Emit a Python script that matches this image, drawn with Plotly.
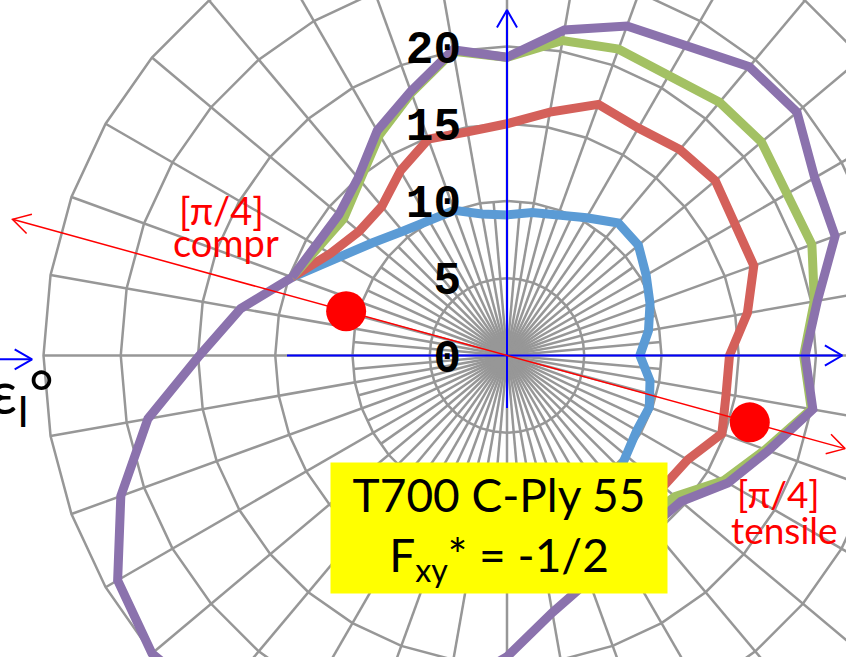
import numpy as np
import plotly.graph_objects as go

# ---------------------------------------------------------------------------
# Failure envelopes (radar layout): angle in degrees, counter-clockwise from
# the +x axis, walked clockwise starting from the common point at 160 deg.
# ---------------------------------------------------------------------------
theta_deg = [160 - 10 * i for i in range(36)]  # 160, 150, ..., -190

blue = [14.8, 12.7, 11.35, 10.5, 10.1, 10.0, 9.3, 9.1, 9.4, 9.75, 10.3, 11.2,
        11.1, 10.4, 9.85, 9.3, 8.6, 9.4, 9.8, 9.7, 10.0, 10.8, 11.5] + [None] * 13
red = [14.8, 13.2, 12.5, 12.6, 13.8, 14.9, 14.7, 15.0, 16.0, 17.3, 17.0, 17.4,
       17.6, 17.0, 17.0, 15.8, 14.4, 14.4, 14.8, 13.5, 13.2, 13.0, 13.0] + [None] * 13
green = [14.8, 14.0, 13.8, 14.8, 16.5, 18.1, 20.0, 19.3, 20.7, 21.1, 20.9, 21.4,
         21.5, 20.9, 21.0, 20.2, 19.2, 20.0, 17.8, 16.2, 14.2, 13.8, 14.0] + [None] * 13
purple = [14.8, 14.3, 14.2, 15.0, 16.8, 18.2, 20.1, 19.3, 21.4, 22.7, 23.2, 24.4,
          24.5, 23.0, 22.6, 20.4, 19.3, 20.1, 18.0, 16.5, 14.7, 14.5, 15.0, 15.5,
          16.9, 19.5, 22.0, 25.0, 27.5, 29.5, 30.0, 29.1, 26.6, 23.6, 19.9, 17.5]

series_names = ["blue", "red", "green", "purple"]
series_colors = ["#5B9BD5", "#D4605A", "#A3C163", "#8B72AD"]

# radial grid / labels
radial_ticks = [0, 5, 10, 15, 20]
ring_radii = [5, 10, 15, 20, 25, 30]
spoke_angles = list(range(0, 360, 10))
fine_spoke_angles = list(range(5, 360, 10))
r_outer = 30
r_fine = 10

# [pi/4] loading direction and the two marked strengths on it
principal_angle = -15.4
dot_theta = [180 + principal_angle, principal_angle]
dot_r = [10.8, 16.3]

# view window (data units)
X_RANGE = [-32.816, 21.942]
Y_RANGE = [-19.515, 23.010]
W, H = 846, 657


def to_xy(rs, ths):
    xs, ys = [], []
    for r, t in zip(rs, ths):
        if r is None:
            xs.append(None)
            ys.append(None)
        else:
            a = np.radians(t)
            xs.append(r * np.cos(a))
            ys.append(r * np.sin(a))
    return xs, ys


def chevron(tip, ang_deg, arm=1.3, half=30):
    tx, ty = tip
    xs, ys = [], []
    for s in (1, -1):
        a = np.radians(ang_deg + 180 + s * half)
        xs.append(tx + arm * np.cos(a))
        ys.append(ty + arm * np.sin(a))
    return [xs[0], tx, xs[1], None], [ys[0], ty, ys[1], None]


fig = go.Figure()

# --- radar grid: spokes and polygonal rings --------------------------------
gx, gy = [], []
for a in spoke_angles:
    t = np.radians(a)
    gx += [0, r_outer * np.cos(t), None]
    gy += [0, r_outer * np.sin(t), None]
for a in fine_spoke_angles:
    t = np.radians(a)
    gx += [0, r_fine * np.cos(t), None]
    gy += [0, r_fine * np.sin(t), None]
for r in ring_radii:
    for a in spoke_angles + [spoke_angles[0]]:
        t = np.radians(a)
        gx.append(r * np.cos(t))
        gy.append(r * np.sin(t))
    gx.append(None)
    gy.append(None)
fig.add_trace(go.Scatter(x=gx, y=gy, mode="lines", hoverinfo="skip",
                         line=dict(color="#979797", width=2.5)))

# --- envelopes ---------------------------------------------------------------
for name, vals, col in zip(series_names, [blue, red, green, purple], series_colors):
    th = list(theta_deg)
    v = list(vals)
    if None not in v:
        th.append(th[0])
        v.append(v[0])
    x, y = to_xy(v, th)
    fig.add_trace(go.Scatter(x=x, y=y, mode="lines", name=name,
                             line=dict(color=col, width=9)))

# --- blue reference axes ------------------------------------------------------
bx = [-14.24, 21.7, None, 0, 0, None, -33.5, -30.74, None]
by = [0, 0, None, -3.4, 22.36, None, -0.25, -0.25, None]
for tip, ang in [((21.7, 0), 0), ((0, 22.36), 90), ((-30.74, -0.25), 0)]:
    cx, cy = chevron(tip, ang)
    bx += cx
    by += cy
fig.add_trace(go.Scatter(x=bx, y=by, mode="lines", hoverinfo="skip",
                         line=dict(color="#0000FF", width=2)))

# --- red [pi/4] direction line -------------------------------------------------
a1 = np.radians(180 + principal_angle)
a2 = np.radians(principal_angle)
tip1 = (33.2 * np.cos(a1), 33.2 * np.sin(a1))
tip2 = (22.7 * np.cos(a2), 22.7 * np.sin(a2))
rx = [tip1[0], tip2[0], None]
ry = [tip1[1], tip2[1], None]
for tip, ang in [(tip1, 180 + principal_angle), (tip2, principal_angle)]:
    cx, cy = chevron(tip, ang)
    rx += cx
    ry += cy
fig.add_trace(go.Scatter(x=rx, y=ry, mode="lines", hoverinfo="skip",
                         line=dict(color="#FF0000", width=1.5)))

dx, dy = to_xy(dot_r, dot_theta)
fig.add_trace(go.Scatter(x=dx, y=dy, mode="markers",
                         marker=dict(color="#FF0000", size=40)))

# --- text ---------------------------------------------------------------------
TXT = "Lato, Open Sans, DejaVu Sans"
ann = []
ann.append(dict(x=-18.45, y=9.42, text="[π/4]", showarrow=False,
                font=dict(family=TXT, size=38, color="#FF0000")))
ann.append(dict(x=-18.19, y=7.35, text="compr", showarrow=False,
                font=dict(family=TXT, size=38, color="#FF0000")))
ann.append(dict(x=17.6, y=-8.9, text="[π/4]", showarrow=False,
                font=dict(family=TXT, size=37, color="#FF0000")))
ann.append(dict(x=17.93, y=-11.23, text="tensile", showarrow=False,
                font=dict(family=TXT, size=37, color="#FF0000")))
ann.append(dict(x=-0.518, y=-11.165, text="T700 C-Ply 55<br>F<sub>xy</sub>* = -1/2",
                showarrow=False, bgcolor="#FFFF00", width=336, height=130,
                borderpad=0, align="center", valign="middle",
                font=dict(family=TXT, size=46, color="black")))
ann.append(dict(xref="paper", yref="paper", x=-0.0142, y=0.4627,
                xanchor="left", yanchor="top", text="ε<sub>I</sub>°",
                showarrow=False, font=dict(family=TXT, size=60, color="black")))

fig.update_layout(
    width=W, height=H,
    margin=dict(l=0, r=0, t=0, b=0),
    paper_bgcolor="white", plot_bgcolor="white",
    showlegend=False,
    annotations=ann,
    xaxis=dict(range=X_RANGE, visible=False, fixedrange=True),
    yaxis=dict(range=Y_RANGE, anchor="free", position=507 / W,
               tickvals=radial_ticks, ticktext=[str(t) for t in radial_ticks],
               showgrid=False, zeroline=False, showline=False, ticks="",
               ticklabelstandoff=46, automargin=False, fixedrange=True,
               tickfont=dict(family="Liberation Mono", size=46, color="black",
                             weight="bold")),
)

fig.write_html("out.html")
